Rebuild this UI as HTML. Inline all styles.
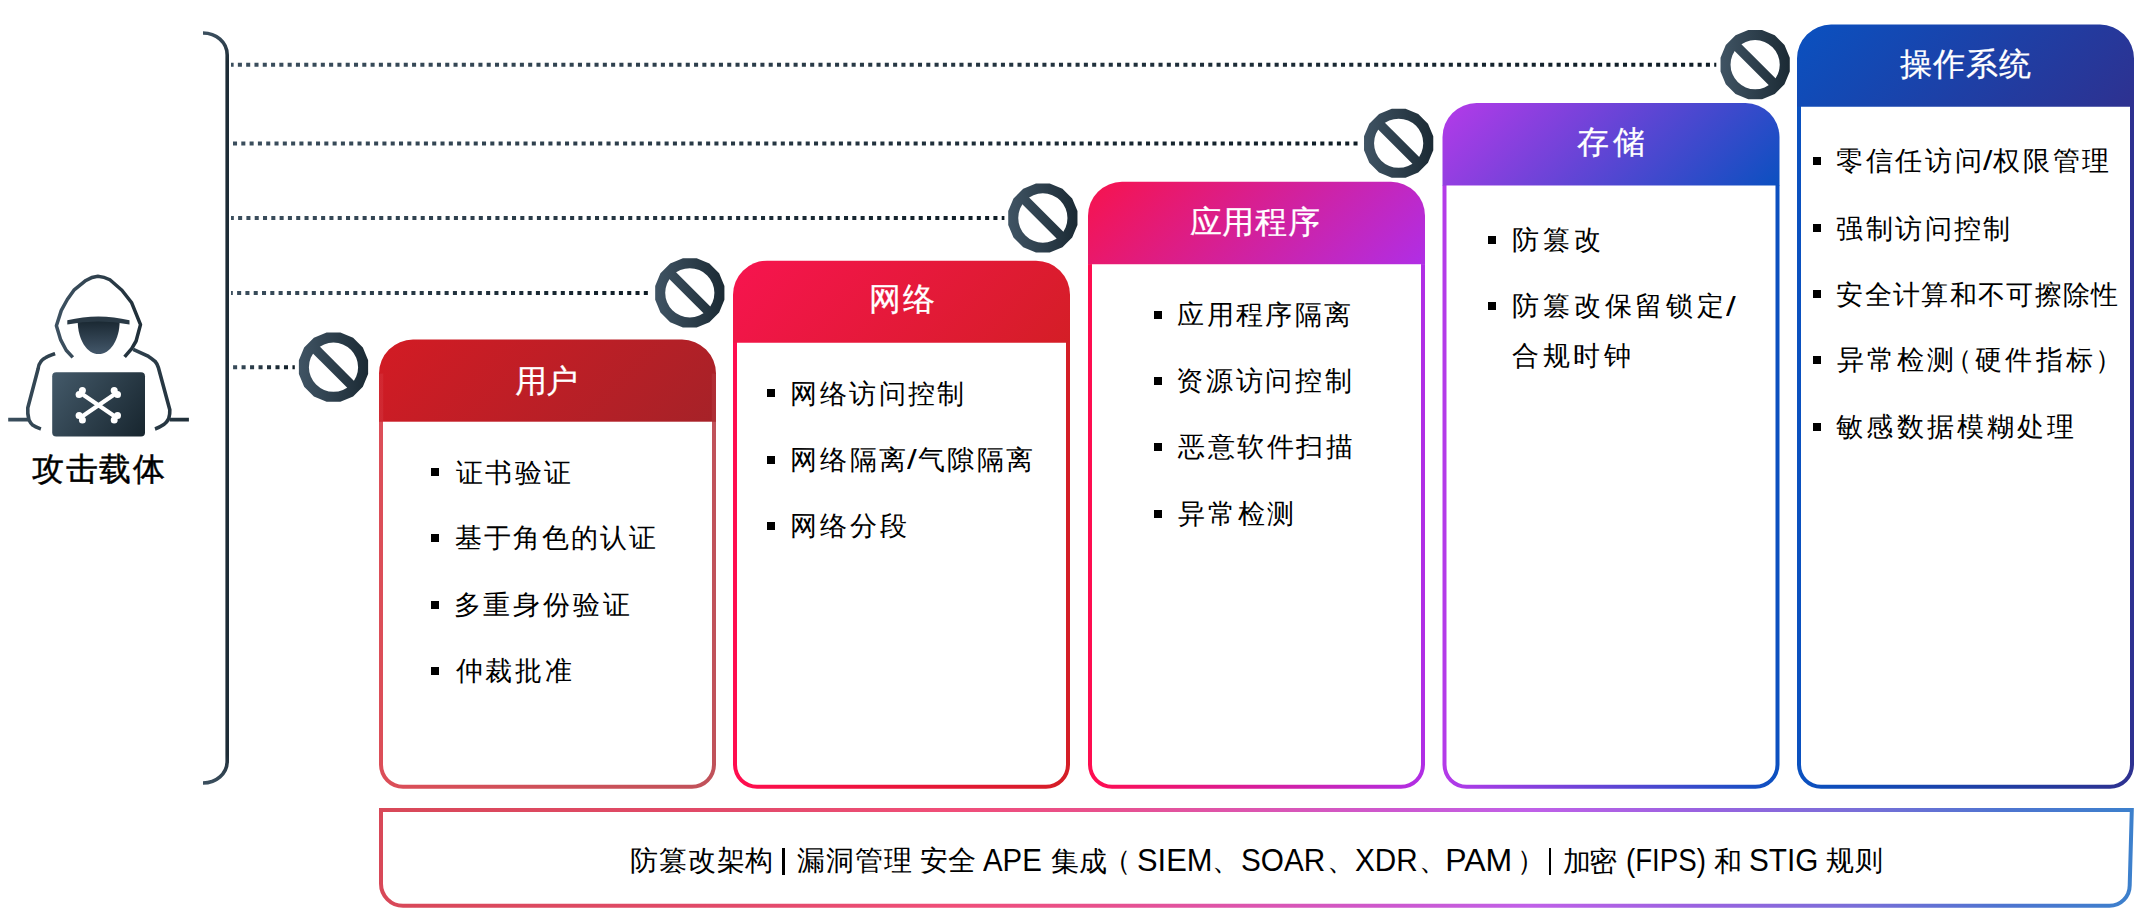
<!DOCTYPE html>
<html><head><meta charset="utf-8"><style>
html,body{margin:0;padding:0;background:#fff;}
body{width:2146px;height:916px;position:relative;overflow:hidden;font-family:"Liberation Sans",sans-serif;}
svg{position:absolute;left:0;top:0;}
.t{position:absolute;white-space:nowrap;line-height:60px;height:60px;}
.blt{position:absolute;width:8px;height:8px;background:#000;}
</style></head><body>
<svg width="2146" height="916" viewBox="0 0 2146 916">
<defs><linearGradient id="hg0" gradientUnits="userSpaceOnUse" x1="379" y1="339.6" x2="588.5999999999999" y2="549.2"><stop offset="0" stop-color="#d31b24"/><stop offset="1" stop-color="#a62228"/></linearGradient><linearGradient id="bg0" gradientUnits="userSpaceOnUse" x1="379" y1="0" x2="716" y2="0"><stop offset="0" stop-color="#dc4e58"/><stop offset="1" stop-color="#c0525a"/></linearGradient><linearGradient id="hg1" gradientUnits="userSpaceOnUse" x1="733" y1="260.7" x2="942.55" y2="470.25"><stop offset="0" stop-color="#f7144f"/><stop offset="1" stop-color="#d41e26"/></linearGradient><linearGradient id="bg1" gradientUnits="userSpaceOnUse" x1="733" y1="0" x2="1070" y2="0"><stop offset="0" stop-color="#ff0d4f"/><stop offset="1" stop-color="#d41e26"/></linearGradient><linearGradient id="hg2" gradientUnits="userSpaceOnUse" x1="1088" y1="181.8" x2="1297.7" y2="391.5"><stop offset="0" stop-color="#f7134d"/><stop offset="1" stop-color="#b02ee6"/></linearGradient><linearGradient id="bg2" gradientUnits="userSpaceOnUse" x1="1088" y1="0" x2="1425" y2="0"><stop offset="0" stop-color="#ff0d4f"/><stop offset="1" stop-color="#b02ee6"/></linearGradient><linearGradient id="hg3" gradientUnits="userSpaceOnUse" x1="1442.5" y1="103.1" x2="1652.15" y2="312.75"><stop offset="0" stop-color="#b53ae9"/><stop offset="1" stop-color="#0b50c0"/></linearGradient><linearGradient id="bg3" gradientUnits="userSpaceOnUse" x1="1442.5" y1="0" x2="1779.5" y2="0"><stop offset="0" stop-color="#b53ae9"/><stop offset="1" stop-color="#0b50c0"/></linearGradient><linearGradient id="hg4" gradientUnits="userSpaceOnUse" x1="1797" y1="24.6" x2="2006.55" y2="234.14999999999998"><stop offset="0" stop-color="#0a51c0"/><stop offset="1" stop-color="#2e3190"/></linearGradient><linearGradient id="bg4" gradientUnits="userSpaceOnUse" x1="1797" y1="0" x2="2134" y2="0"><stop offset="0" stop-color="#0a51c0"/><stop offset="1" stop-color="#2e3190"/></linearGradient><linearGradient id="cg0" gradientUnits="userSpaceOnUse" x1="298.5" y1="0" x2="368.5" y2="0"><stop offset="0" stop-color="#405464"/><stop offset="1" stop-color="#1b2a34"/></linearGradient><linearGradient id="cg1" gradientUnits="userSpaceOnUse" x1="654.8" y1="0" x2="724.8" y2="0"><stop offset="0" stop-color="#405464"/><stop offset="1" stop-color="#1b2a34"/></linearGradient><linearGradient id="cg2" gradientUnits="userSpaceOnUse" x1="1007.8499999999999" y1="0" x2="1077.85" y2="0"><stop offset="0" stop-color="#405464"/><stop offset="1" stop-color="#1b2a34"/></linearGradient><linearGradient id="cg3" gradientUnits="userSpaceOnUse" x1="1363.65" y1="0" x2="1433.65" y2="0"><stop offset="0" stop-color="#405464"/><stop offset="1" stop-color="#1b2a34"/></linearGradient><linearGradient id="cg4" gradientUnits="userSpaceOnUse" x1="1720.15" y1="0" x2="1790.15" y2="0"><stop offset="0" stop-color="#405464"/><stop offset="1" stop-color="#1b2a34"/></linearGradient><linearGradient id="dg0" gradientUnits="userSpaceOnUse" x1="231" y1="0" x2="1716.3" y2="0"><stop offset="0" stop-color="#3b4e5d"/><stop offset="1" stop-color="#0e1c25"/></linearGradient><linearGradient id="dg1" gradientUnits="userSpaceOnUse" x1="231" y1="0" x2="1360" y2="0"><stop offset="0" stop-color="#3b4e5d"/><stop offset="1" stop-color="#0e1c25"/></linearGradient><linearGradient id="dg2" gradientUnits="userSpaceOnUse" x1="231" y1="0" x2="1004.4" y2="0"><stop offset="0" stop-color="#3b4e5d"/><stop offset="1" stop-color="#0e1c25"/></linearGradient><linearGradient id="dg3" gradientUnits="userSpaceOnUse" x1="231" y1="0" x2="651.4" y2="0"><stop offset="0" stop-color="#3b4e5d"/><stop offset="1" stop-color="#0e1c25"/></linearGradient><linearGradient id="dg4" gradientUnits="userSpaceOnUse" x1="231" y1="0" x2="294.8" y2="0"><stop offset="0" stop-color="#3b4e5d"/><stop offset="1" stop-color="#0e1c25"/></linearGradient><linearGradient id="bn" gradientUnits="userSpaceOnUse" x1="379" y1="0" x2="2134" y2="0"><stop offset="0" stop-color="#d84858"/><stop offset="0.205" stop-color="#e24a6a"/><stop offset="0.325" stop-color="#f04e78"/><stop offset="0.41" stop-color="#e8508c"/><stop offset="0.5" stop-color="#dc55b0"/><stop offset="0.58" stop-color="#cc58d0"/><stop offset="0.655" stop-color="#c060e8"/><stop offset="0.75" stop-color="#9a62e0"/><stop offset="0.84" stop-color="#7a6ed8"/><stop offset="0.925" stop-color="#4e74d0"/><stop offset="1" stop-color="#3c80cc"/></linearGradient></defs>
<line x1="231" y1="64.85" x2="1716.3" y2="64.85" stroke="url(#dg0)" stroke-width="4" stroke-dasharray="4.05 4.244" stroke-dashoffset="1.420"/><line x1="231" y1="143.4" x2="1360" y2="143.4" stroke="url(#dg1)" stroke-width="4" stroke-dasharray="4.05 4.250" stroke-dashoffset="6.300"/><line x1="231" y1="217.9" x2="1004.4" y2="217.9" stroke="url(#dg2)" stroke-width="4" stroke-dasharray="4.05 4.250" stroke-dashoffset="1.200"/><line x1="231" y1="292.9" x2="651.4" y2="292.9" stroke="url(#dg3)" stroke-width="4" stroke-dasharray="4.05 4.250" stroke-dashoffset="2.200"/><line x1="231" y1="367.35" x2="294.8" y2="367.35" stroke="url(#dg4)" stroke-width="4" stroke-dasharray="4.05 4.430" stroke-dashoffset="6.400"/>
<linearGradient id="brg" gradientUnits="userSpaceOnUse" x1="0" y1="31" x2="0" y2="785"><stop offset="0" stop-color="#3d5161"/><stop offset="0.04" stop-color="#1d2c36"/><stop offset="0.96" stop-color="#1d2c36"/><stop offset="1" stop-color="#3d5161"/></linearGradient><path d="M203,33 C216,33 227.2,42 227.2,55 V761 C227.2,774 216,783 203,783" fill="none" stroke="url(#brg)" stroke-width="3.6"/>
<path d="M379,373.6 A34,34 0 0 1 413,339.6 H682 A34,34 0 0 1 716,373.6 V422.3 H379 Z" fill="url(#hg0)"/><path d="M379,421.8 H716 V764.8 A24,24 0 0 1 692,788.8 H403 A24,24 0 0 1 379,764.8 Z" fill="url(#bg0)"/><rect x="379" y="373.6" width="4.2" height="48.19999999999999" fill="url(#bg0)" opacity="0.25"/><rect x="711.8" y="373.6" width="4.2" height="48.19999999999999" fill="url(#bg0)" opacity="0.25"/><path d="M383,421.8 H712 V764.8 A20,20 0 0 1 692,784.8 H403 A20,20 0 0 1 383,764.8 Z" fill="#fff"/><path d="M733,294.7 A34,34 0 0 1 767,260.7 H1036 A34,34 0 0 1 1070,294.7 V343.3 H733 Z" fill="url(#hg1)"/><path d="M733,342.8 H1070 V764.8 A24,24 0 0 1 1046,788.8 H757 A24,24 0 0 1 733,764.8 Z" fill="url(#bg1)"/><path d="M737,342.8 H1066 V764.8 A20,20 0 0 1 1046,784.8 H757 A20,20 0 0 1 737,764.8 Z" fill="#fff"/><path d="M1088,215.8 A34,34 0 0 1 1122,181.8 H1391 A34,34 0 0 1 1425,215.8 V264.7 H1088 Z" fill="url(#hg2)"/><path d="M1088,264.2 H1425 V764.8 A24,24 0 0 1 1401,788.8 H1112 A24,24 0 0 1 1088,764.8 Z" fill="url(#bg2)"/><path d="M1092,264.2 H1421 V764.8 A20,20 0 0 1 1401,784.8 H1112 A20,20 0 0 1 1092,764.8 Z" fill="#fff"/><path d="M1442.5,137.1 A34,34 0 0 1 1476.5,103.1 H1745.5 A34,34 0 0 1 1779.5,137.1 V185.9 H1442.5 Z" fill="url(#hg3)"/><path d="M1442.5,185.4 H1779.5 V764.8 A24,24 0 0 1 1755.5,788.8 H1466.5 A24,24 0 0 1 1442.5,764.8 Z" fill="url(#bg3)"/><path d="M1446.5,185.4 H1775.5 V764.8 A20,20 0 0 1 1755.5,784.8 H1466.5 A20,20 0 0 1 1446.5,764.8 Z" fill="#fff"/><path d="M1797,58.6 A34,34 0 0 1 1831,24.6 H2100 A34,34 0 0 1 2134,58.6 V107.2 H1797 Z" fill="url(#hg4)"/><path d="M1797,106.7 H2134 V764.8 A24,24 0 0 1 2110,788.8 H1821 A24,24 0 0 1 1797,764.8 Z" fill="url(#bg4)"/><path d="M1801,106.7 H2130 V764.8 A20,20 0 0 1 2110,784.8 H1821 A20,20 0 0 1 1801,764.8 Z" fill="#fff"/><g><path d="M368.12,374.04 L362.85,386.76 L353.11,396.50 L340.39,401.77 L326.61,401.77 L313.89,396.50 L304.15,386.76 L298.88,374.04 L298.88,360.26 L304.15,347.54 L313.89,337.80 L326.61,332.53 L340.39,332.53 L353.11,337.80 L362.85,347.54 L368.12,360.26 Z M358.1,367.15 A24.6,24.6 0 1 0 308.9,367.15 A24.6,24.6 0 1 0 358.1,367.15 Z" fill="url(#cg0)" fill-rule="evenodd"/><line x1="313.10534" y1="346.75534" x2="353.89466" y2="387.54465999999996" stroke="url(#cg0)" stroke-width="9.6"/></g><g><path d="M724.42,299.69 L719.15,312.41 L709.41,322.15 L696.69,327.42 L682.91,327.42 L670.19,322.15 L660.45,312.41 L655.18,299.69 L655.18,285.91 L660.45,273.19 L670.19,263.45 L682.91,258.18 L696.69,258.18 L709.41,263.45 L719.15,273.19 L724.42,285.91 Z M714.4,292.8 A24.6,24.6 0 1 0 665.1999999999999,292.8 A24.6,24.6 0 1 0 714.4,292.8 Z" fill="url(#cg1)" fill-rule="evenodd"/><line x1="669.4053399999999" y1="272.40534" x2="710.19466" y2="313.19466" stroke="url(#cg1)" stroke-width="9.6"/></g><g><path d="M1077.47,224.89 L1072.20,237.61 L1062.46,247.35 L1049.74,252.62 L1035.96,252.62 L1023.24,247.35 L1013.50,237.61 L1008.23,224.89 L1008.23,211.11 L1013.50,198.39 L1023.24,188.65 L1035.96,183.38 L1049.74,183.38 L1062.46,188.65 L1072.20,198.39 L1077.47,211.11 Z M1067.4499999999998,218 A24.6,24.6 0 1 0 1018.2499999999999,218 A24.6,24.6 0 1 0 1067.4499999999998,218 Z" fill="url(#cg2)" fill-rule="evenodd"/><line x1="1022.4553399999999" y1="197.60534" x2="1063.2446599999998" y2="238.39466" stroke="url(#cg2)" stroke-width="9.6"/></g><g><path d="M1433.27,150.14 L1428.00,162.86 L1418.26,172.60 L1405.54,177.87 L1391.76,177.87 L1379.04,172.60 L1369.30,162.86 L1364.03,150.14 L1364.03,136.36 L1369.30,123.64 L1379.04,113.90 L1391.76,108.63 L1405.54,108.63 L1418.26,113.90 L1428.00,123.64 L1433.27,136.36 Z M1423.25,143.25 A24.6,24.6 0 1 0 1374.0500000000002,143.25 A24.6,24.6 0 1 0 1423.25,143.25 Z" fill="url(#cg3)" fill-rule="evenodd"/><line x1="1378.2553400000002" y1="122.85534" x2="1419.04466" y2="163.64466" stroke="url(#cg3)" stroke-width="9.6"/></g><g><path d="M1789.77,71.59 L1784.50,84.31 L1774.76,94.05 L1762.04,99.32 L1748.26,99.32 L1735.54,94.05 L1725.80,84.31 L1720.53,71.59 L1720.53,57.81 L1725.80,45.09 L1735.54,35.35 L1748.26,30.08 L1762.04,30.08 L1774.76,35.35 L1784.50,45.09 L1789.77,57.81 Z M1779.75,64.7 A24.6,24.6 0 1 0 1730.5500000000002,64.7 A24.6,24.6 0 1 0 1779.75,64.7 Z" fill="url(#cg4)" fill-rule="evenodd"/><line x1="1734.7553400000002" y1="44.30534" x2="1775.54466" y2="85.09466" stroke="url(#cg4)" stroke-width="9.6"/></g>
<path d="M381,810 H2131.8 L2129.7,885.5 A20.3,20.3 0 0 1 2109.4,905.8 H403 A22,22 0 0 1 381,883.8 Z" fill="none" stroke="url(#bn)" stroke-width="4" stroke-linejoin="miter"/>
<defs>
<linearGradient id="lg" gradientUnits="userSpaceOnUse" x1="52" y1="372" x2="145" y2="437"><stop offset="0" stop-color="#445a6a"/><stop offset="1" stop-color="#17252e"/></linearGradient>
<linearGradient id="fg" gradientUnits="userSpaceOnUse" x1="0" y1="321" x2="0" y2="354"><stop offset="0" stop-color="#1a2832"/><stop offset="1" stop-color="#43576a"/></linearGradient>
<linearGradient id="hl" gradientUnits="userSpaceOnUse" x1="55" y1="0" x2="142" y2="0"><stop offset="0" stop-color="#3e5262"/><stop offset="1" stop-color="#1f2e38"/></linearGradient>
<linearGradient id="sl" gradientUnits="userSpaceOnUse" x1="8" y1="0" x2="190" y2="0"><stop offset="0" stop-color="#3b4f5e"/><stop offset="0.3" stop-color="#2a3c48"/><stop offset="0.7" stop-color="#2f414e"/><stop offset="1" stop-color="#1f2e38"/></linearGradient>
</defs>
<g fill="none" stroke="url(#hl)" stroke-width="3.5" stroke-linejoin="round">
<path d="M72.8,357.4 L66.2,350.3 L60.7,339.9 L56.4,325.7 L61.3,310.4 L67.3,299.5 L73.9,290.2 L85.9,280.4 Q92,276.8 97.9,276.3 Q104,276.8 109.9,279.8 L121.9,290.2 L131.7,302.8 L140.5,324.6 L136.1,341 L131.7,348.6 L124.6,356.8"/>
</g>
<g fill="none" stroke="url(#sl)" stroke-width="3.6" stroke-linecap="butt">
<path d="M55.1,353.6 C51,355 48,356 45.9,357.5 C43,359 41,361 40.4,362.4 C39,364 38.5,366 38.2,368.4 L27.8,407.7 C27.5,411 28,416 28.9,419.7 C30,422 31,424 32.8,425.2 C35,427 38,428 40.9,429"/>
<path d="M133.2,349.3 L148.5,356.4 C151,358 153,359.5 155,361.3 C156.5,363 157.5,365 158.3,367.3 L169.8,409.9 C170,413 169.5,416 168.7,418.6 C167.5,421 166,423 163.8,424.6 C161,426.5 158,428 155,429"/>
<path d="M8.2,419.7 H28.6 M169.6,419.7 H188.9" stroke-width="3.8"/>
</g>

<path d="M77.7,320.4 H119.7 C119.7,340 110,354.1 98.6,354.1 C87.2,354.1 77.7,340 77.7,320.4 Z" fill="url(#fg)"/>
<path d="M67.3,320.2 Q98.4,312.6 129.5,320.2 L129.5,324.4 Q98.4,318.6 67.3,324.4 Z" fill="#2a3a46"/>
<rect x="52.2" y="372.2" width="92.8" height="64.4" rx="4" fill="url(#lg)"/>
<g stroke="#fff" stroke-width="4.2">
<line x1="81.3" y1="393.5" x2="115.7" y2="417"/><line x1="115.7" y1="393.5" x2="81.3" y2="417"/>
</g>
<g fill="#fff">
<circle cx="82.4" cy="390.4" r="3.5"/><circle cx="79.1" cy="394.6" r="3.5"/>
<circle cx="114.2" cy="390.4" r="3.5"/><circle cx="117.5" cy="394.6" r="3.5"/>
<circle cx="79.1" cy="415.5" r="3.5"/><circle cx="82.4" cy="419.9" r="3.5"/>
<circle cx="117.5" cy="415.5" r="3.5"/><circle cx="114.2" cy="419.9" r="3.5"/>
</g>

</svg>
<div class="t" style="left:514.60px;top:350.50px;font-size:32px;font-weight:400;letter-spacing:-0.500px;color:#fff;-webkit-text-stroke:0.25px #fff">用户</div><div class="t" style="left:455.50px;top:442.80px;font-size:27px;font-weight:400;letter-spacing:2.533px;color:#000">证书验证</div><div class="blt" style="left:431px;top:468.30px"></div><div class="t" style="left:454.50px;top:508.40px;font-size:27px;font-weight:400;letter-spacing:2.117px;color:#000">基于角色的认证</div><div class="blt" style="left:431px;top:534.40px"></div><div class="t" style="left:453.50px;top:574.50px;font-size:27px;font-weight:400;letter-spacing:2.840px;color:#000">多重身份验证</div><div class="blt" style="left:431px;top:600.50px"></div><div class="t" style="left:455.50px;top:640.60px;font-size:27px;font-weight:400;letter-spacing:2.800px;color:#000">仲裁批准</div><div class="blt" style="left:431px;top:666.60px"></div><div class="t" style="left:868.80px;top:268.80px;font-size:32px;font-weight:400;letter-spacing:2.200px;color:#fff;-webkit-text-stroke:0.25px #fff">网络</div><div class="t" style="left:790.40px;top:363.50px;font-size:27px;font-weight:400;letter-spacing:2.400px;color:#000">网络访问控制</div><div class="blt" style="left:766.5px;top:389.00px"></div><div class="t" style="left:790.40px;top:430.20px;font-size:27px;font-weight:400;letter-spacing:2.600px;color:#000">网络隔离</div><div class="t" style="left:907.00px;top:430.20px;font-size:27px;color:#000;transform:scaleX(1.300);transform-origin:0 0">/</div><div class="t" style="left:917.70px;top:430.20px;font-size:27px;font-weight:400;letter-spacing:2.467px;color:#000">气隙隔离</div><div class="blt" style="left:766.5px;top:455.70px"></div><div class="t" style="left:790.40px;top:496.20px;font-size:27px;font-weight:400;letter-spacing:2.800px;color:#000">网络分段</div><div class="blt" style="left:766.5px;top:522.20px"></div><div class="t" style="left:1189.50px;top:191.55px;font-size:32px;font-weight:400;letter-spacing:0.867px;color:#fff;-webkit-text-stroke:0.25px #fff">应用程序</div><div class="t" style="left:1177.30px;top:285.10px;font-size:27px;font-weight:400;letter-spacing:2.380px;color:#000">应用程序隔离</div><div class="blt" style="left:1154px;top:310.60px"></div><div class="t" style="left:1176.30px;top:351.40px;font-size:27px;font-weight:400;letter-spacing:2.680px;color:#000">资源访问控制</div><div class="blt" style="left:1154px;top:376.90px"></div><div class="t" style="left:1178.30px;top:416.90px;font-size:27px;font-weight:400;letter-spacing:2.520px;color:#000">恶意软件扫描</div><div class="blt" style="left:1154px;top:442.90px"></div><div class="t" style="left:1178.10px;top:483.80px;font-size:27px;font-weight:400;letter-spacing:2.767px;color:#000">异常检测</div><div class="blt" style="left:1154px;top:509.80px"></div><div class="t" style="left:1577.00px;top:112.00px;font-size:32px;font-weight:400;letter-spacing:3.700px;color:#fff;-webkit-text-stroke:0.25px #fff">存储</div><div class="t" style="left:1512.20px;top:210.20px;font-size:27px;font-weight:400;letter-spacing:4.050px;color:#000">防篡改</div><div class="blt" style="left:1488.1px;top:236.20px"></div><div class="t" style="left:1512.20px;top:276.40px;font-size:27px;font-weight:400;letter-spacing:3.783px;color:#000">防篡改保留锁定</div><div class="t" style="left:1725.90px;top:276.90px;font-size:27px;color:#000;transform:scaleX(1.300);transform-origin:0 0">/</div><div class="blt" style="left:1488.1px;top:302.40px"></div><div class="t" style="left:1512.30px;top:325.50px;font-size:27px;font-weight:400;letter-spacing:3.433px;color:#000">合规时钟</div><div class="t" style="left:1899.50px;top:34.10px;font-size:32px;font-weight:400;letter-spacing:1.200px;color:#fff;-webkit-text-stroke:0.25px #fff">操作系统</div><div class="t" style="left:1836.10px;top:131.40px;font-size:27px;font-weight:400;letter-spacing:2.650px;color:#000">零信任访问</div><div class="t" style="left:1982.90px;top:131.40px;font-size:27px;color:#000;transform:scaleX(1.257);transform-origin:0 0">/</div><div class="t" style="left:1993.10px;top:130.90px;font-size:27px;font-weight:400;letter-spacing:2.800px;color:#000">权限管理</div><div class="blt" style="left:1812.5px;top:156.90px"></div><div class="t" style="left:1836.10px;top:198.50px;font-size:27px;font-weight:400;letter-spacing:2.480px;color:#000">强制访问控制</div><div class="blt" style="left:1812.5px;top:224.00px"></div><div class="t" style="left:1836.30px;top:264.60px;font-size:27px;font-weight:400;letter-spacing:1.344px;color:#000">安全计算和不可擦除性</div><div class="blt" style="left:1812.5px;top:290.10px"></div><div class="t" style="left:1837.10px;top:329.90px;font-size:27px;font-weight:400;letter-spacing:2.833px;color:#000">异常检测</div><div class="t" style="left:1945.10px;top:330.40px;font-size:27px;color:#000">（</div><div class="t" style="left:1974.90px;top:329.90px;font-size:27px;font-weight:400;letter-spacing:3.433px;color:#000">硬件指标</div><div class="t" style="left:2095.15px;top:330.40px;font-size:27px;color:#000">）</div><div class="blt" style="left:1812.5px;top:355.90px"></div><div class="t" style="left:1836.30px;top:396.70px;font-size:27px;font-weight:400;letter-spacing:3.129px;color:#000">敏感数据模糊处理</div><div class="blt" style="left:1812.5px;top:422.70px"></div><div class="t" style="left:32.00px;top:438.60px;font-size:32px;font-weight:400;letter-spacing:1.600px;color:#000;-webkit-text-stroke:0.45px #000">攻击载体</div><div class="t" style="left:629.90px;top:831.40px;font-size:28px;font-weight:400;letter-spacing:0.875px;color:#000">防篡改架构</div><div style="position:absolute;left:781.8px;top:848.2px;width:3.00px;height:27.3px;background:#000"></div><div class="t" style="left:797.20px;top:831.40px;font-size:28px;font-weight:400;letter-spacing:0.867px;color:#000">漏洞管理</div><div class="t" style="left:919.80px;top:831.40px;font-size:28px;font-weight:400;letter-spacing:-0.100px;color:#000">安全</div><div class="t" style="left:983.40px;top:829.80px;font-size:32px;color:#000;transform:scaleX(0.9175);transform-origin:0 0">APE</div><div class="t" style="left:1050.50px;top:831.90px;font-size:28px;font-weight:400;letter-spacing:0.700px;color:#000">集成</div><div class="t" style="left:1103.05px;top:831.40px;font-size:28px;color:#000">（</div><div class="t" style="left:1136.67px;top:829.80px;font-size:32px;color:#000;transform:scaleX(0.9635);transform-origin:0 0">SIEM</div><div class="t" style="left:1212.35px;top:831.40px;font-size:28px;color:#000">、</div><div class="t" style="left:1241.34px;top:829.80px;font-size:32px;color:#000;transform:scaleX(0.9287);transform-origin:0 0">SOAR</div><div class="t" style="left:1327.15px;top:831.40px;font-size:28px;color:#000">、</div><div class="t" style="left:1354.67px;top:829.80px;font-size:32px;color:#000;transform:scaleX(0.9277);transform-origin:0 0">XDR</div><div class="t" style="left:1419.45px;top:831.40px;font-size:28px;color:#000">、</div><div class="t" style="left:1445.30px;top:829.80px;font-size:32px;color:#000;transform:scaleX(1.0000);transform-origin:0 0">PAM</div><div class="t" style="left:1516.50px;top:831.40px;font-size:28px;color:#000">）</div><div style="position:absolute;left:1549px;top:848.2px;width:2.30px;height:27.3px;background:#000"></div><div class="t" style="left:1563.00px;top:831.90px;font-size:28px;font-weight:400;letter-spacing:-1.800px;color:#000">加密</div><div class="t" style="left:1626.37px;top:829.80px;font-size:32px;color:#000;transform:scaleX(0.8648);transform-origin:0 0">(FIPS)</div><div class="t" style="left:1713.50px;top:831.90px;font-size:28px;font-weight:400;letter-spacing:0.000px;color:#000">和</div><div class="t" style="left:1749.04px;top:829.80px;font-size:32px;color:#000;transform:scaleX(0.9286);transform-origin:0 0">STIG</div><div class="t" style="left:1826.00px;top:831.40px;font-size:28px;font-weight:400;letter-spacing:0.800px;color:#000">规则</div>
</body></html>
